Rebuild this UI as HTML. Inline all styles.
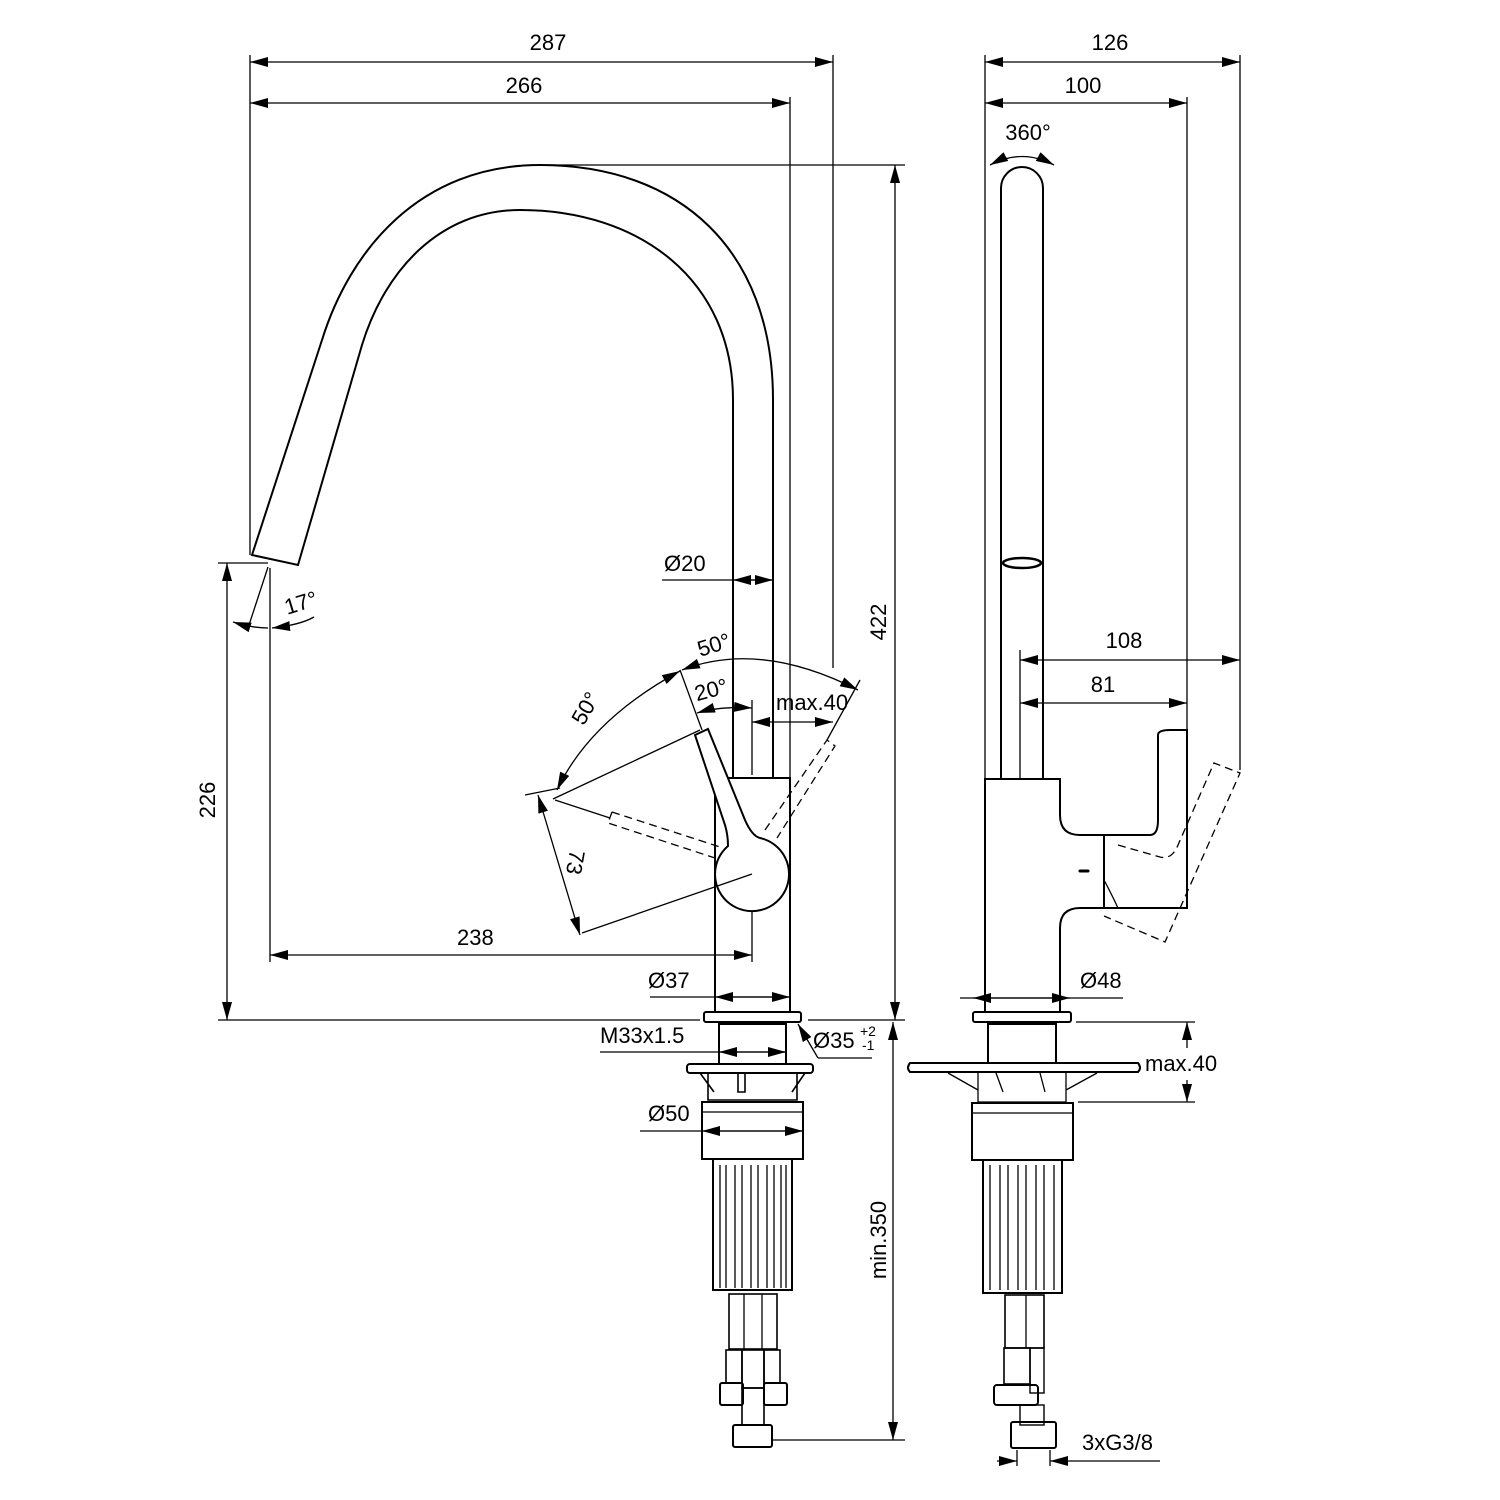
<!DOCTYPE html>
<html><head><meta charset="utf-8"><style>
html,body{margin:0;padding:0;background:#fff;}
svg{display:block;}
text{font-family:"Liberation Sans",sans-serif;font-size:22px;fill:#000;}
</style></head><body>
<svg width="1500" height="1500" viewBox="0 0 1500 1500" xmlns="http://www.w3.org/2000/svg">
<defs>
<marker id="a" viewBox="0 0 18 10" refX="18" refY="5" markerWidth="18" markerHeight="10" markerUnits="userSpaceOnUse" orient="auto-start-reverse"><path d="M0,0 L18,5 L0,10 Z" fill="#000"/></marker>
</defs>
<g fill="none" stroke="#000" stroke-width="1.3">
<line x1="250" y1="62" x2="833" y2="62" marker-start="url(#a)" marker-end="url(#a)"/>
<line x1="250" y1="103" x2="790" y2="103" marker-start="url(#a)" marker-end="url(#a)"/>
<line x1="250" y1="55" x2="250" y2="555"/>
<line x1="833" y1="55" x2="833" y2="668"/>
<line x1="790" y1="97" x2="790" y2="780"/>
<line x1="540" y1="165" x2="905" y2="165"/>
<line x1="895" y1="165" x2="895" y2="1020" marker-start="url(#a)" marker-end="url(#a)"/>
<line x1="218" y1="563" x2="268" y2="563"/>
<line x1="218" y1="1020" x2="700" y2="1020"/>
<line x1="808" y1="1020" x2="905" y2="1020"/>
<line x1="227" y1="563" x2="227" y2="1020" marker-start="url(#a)" marker-end="url(#a)"/>
<line x1="270" y1="568" x2="270" y2="962"/>
<line x1="268" y1="567" x2="249" y2="625"/>
<path d="M233,622 Q252,628 268,628" marker-start="url(#a)"/>
<path d="M314,617 Q300,625 272,628" marker-end="url(#a)"/>
<line x1="270" y1="955" x2="752" y2="955" marker-start="url(#a)" marker-end="url(#a)"/>
<line x1="752" y1="875" x2="752" y2="962"/>
<line x1="662" y1="580" x2="773" y2="580"/>
<line x1="733" y1="580" x2="773" y2="580" marker-start="url(#a)" marker-end="url(#a)"/>
<path d="M773,778 L773,400 C773,250 680,165 540,165 C420,165 350,250 322,340 L252,555 L298,565 L362,345 C385,270 440,210 520,210 C640,210 733,280 733,400 L733,778" stroke-width="2"/>
<rect x="715" y="778" width="75" height="234" stroke-width="2"/>
<path d="M695,735 L708,729 L745,820 Q752,836 760,838 A37,37 0 1 1 728,846 Q728,835 725,825 Z" fill="#fff" stroke-width="2"/>
<line x1="752" y1="874" x2="582" y2="933"/>
<line x1="700" y1="730" x2="553" y2="799"/>
<line x1="555" y1="800" x2="610" y2="818"/>
<path d="M612,812 L608,823 L715,858 M612,812 L720,847" stroke-dasharray="8,5"/>
<path d="M765,830 L827,740 L835,746 L777,838" stroke-dasharray="8,5"/>
<line x1="538" y1="795" x2="580" y2="935" marker-start="url(#a)" marker-end="url(#a)"/>
<line x1="525" y1="795" x2="560" y2="788"/>
<line x1="680" y1="670" x2="702" y2="730"/>
<path d="M680,671 Q590,720 557,790" marker-start="url(#a)" marker-end="url(#a)"/>
<path d="M682,670 Q760,640 858,690" marker-start="url(#a)" marker-end="url(#a)"/>
<line x1="827" y1="740" x2="860" y2="680"/>
<path d="M697,713 Q720,706 752,708" marker-start="url(#a)" marker-end="url(#a)"/>
<line x1="752" y1="700" x2="752" y2="775"/>
<line x1="752" y1="722" x2="833" y2="722" marker-start="url(#a)" marker-end="url(#a)"/>
<line x1="650" y1="997" x2="790" y2="997"/>
<line x1="715" y1="997" x2="790" y2="997" marker-start="url(#a)" marker-end="url(#a)"/>
<rect x="704" y="1012" width="97" height="10" rx="2" stroke-width="2"/>
<rect x="719" y="1024" width="67" height="40" stroke-width="2"/>
<line x1="600" y1="1052" x2="786" y2="1052"/>
<line x1="719" y1="1052" x2="786" y2="1052" marker-start="url(#a)" marker-end="url(#a)"/>
<path d="M818,1058 L872,1058" />
<line x1="818" y1="1058" x2="798" y2="1024" marker-end="url(#a)"/>
<rect x="687" y="1064" width="126" height="9" rx="3" stroke-width="2"/>
<path d="M708,1073 L708,1100 L797,1100 L797,1073 M700,1073 L714,1092 M805,1073 L792,1092 M738,1073 L738,1092 L745,1092 L745,1073" stroke-width="1.6"/>
<rect x="702" y="1102" width="101" height="57" stroke-width="2"/>
<line x1="702" y1="1112" x2="803" y2="1112"/>
<line x1="640" y1="1131" x2="803" y2="1131"/>
<line x1="702" y1="1131" x2="803" y2="1131" marker-start="url(#a)" marker-end="url(#a)"/>
<path d="M713,1160 L713,1290 L792,1290 L792,1160" stroke-width="2"/>
<path d="M726,1165 V1288 M742,1165 V1288 M758,1165 V1288 M774,1165 V1288 M786,1165 V1288 M720,1165 V1288 M735,1165 V1288 M751,1165 V1288 M767,1165 V1288 M781,1165 V1288"/>
<rect x="729" y="1294" width="48" height="55" stroke-width="1.6"/>
<line x1="744" y1="1294" x2="744" y2="1349"/><line x1="762" y1="1294" x2="762" y2="1349"/>
<rect x="726" y="1350" width="16" height="33" stroke-width="1.6"/>
<rect x="764" y="1350" width="16" height="33" stroke-width="1.6"/>
<rect x="720" y="1383" width="23" height="22" rx="2" stroke-width="2"/>
<rect x="764" y="1383" width="23" height="22" rx="2" stroke-width="2"/>
<rect x="742" y="1350" width="22" height="38" stroke-width="1.6"/>
<rect x="742" y="1388" width="22" height="37" stroke-width="1.6"/>
<rect x="733" y="1425" width="39" height="22" rx="2" stroke-width="2"/>
<line x1="772" y1="1440" x2="905" y2="1440"/>
<line x1="893" y1="1022" x2="893" y2="1440" marker-start="url(#a)" marker-end="url(#a)"/>
<line x1="985" y1="62" x2="1240" y2="62" marker-start="url(#a)" marker-end="url(#a)"/>
<line x1="985" y1="103" x2="1187" y2="103" marker-start="url(#a)" marker-end="url(#a)"/>
<line x1="985" y1="55" x2="985" y2="778"/>
<line x1="1240" y1="55" x2="1240" y2="770"/>
<line x1="1187" y1="97" x2="1187" y2="730"/>
<line x1="1020" y1="650" x2="1020" y2="778"/>
<line x1="1020" y1="660" x2="1240" y2="660" marker-start="url(#a)" marker-end="url(#a)"/>
<line x1="1020" y1="703" x2="1187" y2="703" marker-start="url(#a)" marker-end="url(#a)"/>
<path d="M990,165 Q1022,148 1054,165" marker-start="url(#a)" marker-end="url(#a)"/>
<path d="M1001,778 L1001,188 A21,21 0 0 1 1043,188 L1043,778" stroke-width="2"/>
<ellipse cx="1022" cy="563" rx="19" ry="5" stroke-width="2.5"/>
<path d="M985,1012 L985,779 L1060,779 L1060,815 Q1060,835 1080,835 L1150,835 Q1158,835 1158,820 L1158,735 Q1158,730 1170,730 L1187,730 L1187,908 L1104,908 L1104,835 M1104,908 L1080,908 Q1060,908 1060,928 L1060,1012" stroke-width="2"/>
<path d="M1104,880 Q1112,895 1118,908" />
<line x1="1080" y1="871" x2="1088" y2="871" stroke-width="3" stroke-linecap="round"/>
<path d="M1118,845 L1160,857 Q1172,860 1178,845 L1214,763 L1240,773 L1165,942 L1104,916" stroke-dasharray="8,5"/>
<line x1="960" y1="998" x2="1123" y2="998"/>
<line x1="973" y1="998" x2="1070" y2="998" marker-start="url(#a)" marker-end="url(#a)"/>
<rect x="973" y="1012" width="98" height="10" rx="2" stroke-width="2"/>
<rect x="988" y="1024" width="68" height="39" stroke-width="2"/>
<path d="M910,1063 L1138,1063 Q1142,1068 1138,1072 L910,1072 Q906,1068 910,1063 Z" stroke-width="2"/>
<path d="M978,1072 L978,1102 L1066,1102 L1066,1072 M948,1073 L978,1090 M1097,1073 L1066,1090 M996,1073 L1003,1092 M1040,1073 L1045,1092"/>
<line x1="1076" y1="1022" x2="1195" y2="1022"/>
<line x1="1078" y1="1102" x2="1195" y2="1102"/>
<line x1="1187" y1="1048" x2="1187" y2="1022" marker-end="url(#a)"/>
<line x1="1187" y1="1080" x2="1187" y2="1102" marker-end="url(#a)"/>
<rect x="972" y="1103" width="101" height="57" stroke-width="2"/>
<line x1="972" y1="1113" x2="1073" y2="1113"/>
<path d="M983,1160 L983,1293 L1062,1293 L1062,1160" stroke-width="2"/>
<path d="M990,1165 V1290 M1000,1165 V1290 M1008,1165 V1290 M1018,1165 V1290 M1026,1165 V1290 M1036,1165 V1290 M1044,1165 V1290 M1054,1165 V1290"/>
<rect x="1005" y="1295" width="39" height="53" stroke-width="1.6"/>
<line x1="1026" y1="1295" x2="1026" y2="1348"/>
<rect x="1004" y="1348" width="26" height="36" stroke-width="1.6"/>
<rect x="1030" y="1348" width="14" height="45" stroke-width="1.4"/>
<rect x="994" y="1385" width="44" height="20" rx="3" stroke-width="2"/>
<rect x="1020" y="1405" width="24" height="20" stroke-width="1.4"/>
<rect x="1011" y="1422" width="45" height="26" rx="2" stroke-width="2"/>
<line x1="1017" y1="1450" x2="1017" y2="1466"/><line x1="1050" y1="1450" x2="1050" y2="1466"/>
<line x1="997" y1="1461" x2="1017" y2="1461" marker-end="url(#a)"/>
<line x1="1160" y1="1461" x2="1050" y2="1461" marker-end="url(#a)"/>
</g>
<g>
<text x="548" y="50" text-anchor="middle">287</text>
<text x="524" y="93" text-anchor="middle">266</text>
<text x="1110" y="50" text-anchor="middle">126</text>
<text x="1083" y="93" text-anchor="middle">100</text>
<text x="1028" y="140" text-anchor="middle">360°</text>
<text x="1124" y="648" text-anchor="middle">108</text>
<text x="1103" y="692" text-anchor="middle">81</text>
<text x="664" y="571">Ø20</text>
<text x="648" y="988">Ø37</text>
<text x="1080" y="988">Ø48</text>
<text x="600" y="1043">M33x1.5</text>
<text x="813" y="1048">Ø35</text>
<text x="860" y="1036" style="font-size:14px">+2</text>
<text x="862" y="1050" style="font-size:14px">-1</text>
<text x="648" y="1121">Ø50</text>
<text x="1145" y="1071">max.40</text>
<text x="776" y="710">max.40</text>
<text x="1082" y="1450">3xG3/8</text>
<text x="457" y="945">238</text>
<text transform="translate(886,622) rotate(-90)" text-anchor="middle">422</text>
<text transform="translate(215,800) rotate(-90)" text-anchor="middle">226</text>
<text transform="translate(886,1240) rotate(-90)" text-anchor="middle">min.350</text>
<text transform="translate(568,861) rotate(100)" text-anchor="middle">73</text>
<text transform="translate(592,712) rotate(-60)" text-anchor="middle">50°</text>
<text transform="translate(716,652) rotate(-17)" text-anchor="middle">50°</text>
<text transform="translate(713,697) rotate(-15)" text-anchor="middle">20°</text>
<text transform="translate(303,610) rotate(-17)" text-anchor="middle">17°</text>
</g>
</svg>
</body></html>
